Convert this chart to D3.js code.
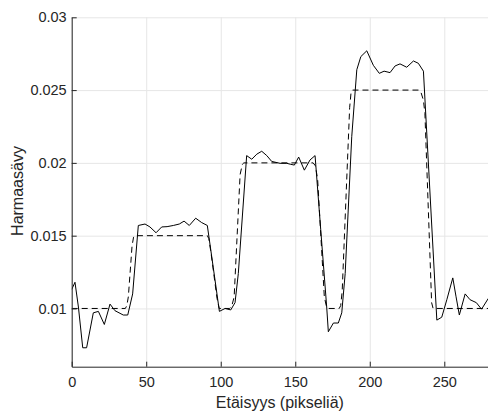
<!DOCTYPE html>
<html>
<head>
<meta charset="utf-8">
<script src="https://cdn.jsdelivr.net/npm/d3@7"></script>
<style>
  body { margin: 0; background: #fff; }
  svg { display: block; font-family: "Liberation Sans", Arial, Helvetica, sans-serif; }
</style>
</head>
<body>
<div id="chart"></div>
<script>
// measured profile (solid)
var measuredX = [0, 2.2, 4.5, 7.4, 10, 14.5, 17.9, 21.9, 25.7, 29, 34.6, 37.6, 40.9,
    44.7, 49.2, 52.5, 56.6, 60.4, 64, 68.2, 72.2, 75.4, 78.9, 83.2, 87.2, 91, 95,
    99.1, 102.9, 106.7, 109.6, 111.8, 117.4, 120.8, 124.2, 127.5, 130.9, 134.2, 139.8,
    144.3, 147, 149.4, 152.3, 156.1, 159.9, 163.3, 167.1, 171.1, 172.2, 175.6, 178.9,
    181.2, 183.5, 187.9, 191.3, 194, 198, 202.4, 206.4, 209.6, 213.6, 217, 220.3,
    224.8, 229.3, 232.6, 236, 245, 248.3, 251.7, 255.7, 257.9, 260.1, 264, 267.3,
    271.5, 275, 279.6]
var measuredY = [0.0113, 0.0118, 0.0101, 0.0073, 0.0073, 0.0097, 0.0098, 0.0089, 0.0103, 0.00985, 0.00955, 0.00955, 0.0110,
    0.0157, 0.0158, 0.0156, 0.0152, 0.0156, 0.01562, 0.0157, 0.0158, 0.0160, 0.0157, 0.0162, 0.0159, 0.0157, 0.0128,
    0.0098, 0.0100, 0.0099, 0.0104, 0.0124, 0.0205, 0.02025, 0.0206, 0.0208, 0.0205, 0.0201, 0.01997,
    0.01997, 0.0199, 0.01985, 0.0204, 0.0195, 0.0202, 0.0205, 0.0154, 0.0101, 0.0084, 0.0090, 0.0090,
    0.0097, 0.0124, 0.0218, 0.0264, 0.0273, 0.0277, 0.0267, 0.02615, 0.0263, 0.0262, 0.02666, 0.0268,
    0.02657, 0.0270, 0.02684, 0.0263, 0.0092, 0.0094, 0.0106, 0.0121, 0.0108, 0.00955, 0.0110, 0.0106,
    0.0104, 0.00995, 0.0107]

// ideal profile (dashed)
var idealX = [0, 36, 37, 38, 40.5, 41.5, 42, 91, 92, 93.5, 97.5, 99, 106, 107.5, 109, 113,
    114.5, 115.5, 162, 163.5, 165, 169.5, 171, 172, 179.5, 180.5, 181.5, 186.5, 187.5, 188.5,
    233, 234.5, 236, 237, 241.5, 242.5, 243.5, 280]
var idealY = [0.01, 0.01, 0.0102, 0.0108, 0.0143, 0.0149, 0.015, 0.015, 0.0148, 0.0138, 0.0107, 0.01, 0.01, 0.0102, 0.0108, 0.0192,
    0.0199, 0.02, 0.02, 0.0198, 0.0189, 0.0108, 0.0101, 0.01, 0.01, 0.0102, 0.0112, 0.0238, 0.0249, 0.025,
    0.025, 0.0248, 0.0243, 0.0234, 0.0104, 0.01, 0.01, 0.01]

var xTicks = [0, 50, 100, 150, 200, 250]
var yTicks = [0.01, 0.015, 0.02, 0.025, 0.03]
var yTickLabels = ['0.01', '0.015', '0.02', '0.025', '0.03']

var W = 488, H = 416,
    margins = {top: 17.3, right: -1, bottom: 49.3, left: 71.7},
    width = W - margins.left - margins.right,
    height = H - margins.top - margins.bottom,
    textColor = '#262626',
    gridColor = '#e6e6e6'

var svg = d3.select('#chart').append('svg')
    .attr('width', W)
    .attr('height', H)

var g = svg.append('g')
    .attr('transform', 'translate(' + margins.left + ',' + margins.top + ')')

var x = d3.scaleLinear().domain([0, 280]).range([0, width])
var y = d3.scaleLinear().domain([0.006, 0.03]).range([height, 0])

// grid
g.append('g').attr('class', 'grid')
    .attr('transform', 'translate(0,' + height + ')')
    .call(d3.axisBottom(x).tickValues(xTicks).tickSize(-height).tickFormat(''))
g.append('g').attr('class', 'grid')
    .call(d3.axisLeft(y).tickValues(yTicks).tickSize(-width).tickFormat(''))
g.selectAll('.grid .domain').remove()
g.selectAll('.grid line').attr('stroke', gridColor).attr('stroke-width', 1)

g.append('clipPath').attr('id', 'clip')
    .append('rect').attr('width', width).attr('height', height)

var line = d3.line()
    .x(function(d) { return x(d[0]) })
    .y(function(d) { return y(d[1]) })

var measured = measuredX.map(function(v, i) { return [v, measuredY[i]] })
var ideal = idealX.map(function(v, i) { return [v, idealY[i]] })

g.append('path')
    .datum(ideal)
    .attr('clip-path', 'url(#clip)')
    .attr('d', line)
    .attr('fill', 'none')
    .attr('stroke', '#000')
    .attr('stroke-width', 1)
    .attr('stroke-dasharray', '6,4')

g.append('path')
    .datum(measured)
    .attr('clip-path', 'url(#clip)')
    .attr('d', line)
    .attr('fill', 'none')
    .attr('stroke', '#000')
    .attr('stroke-width', 1)

// axes
var xAxis = g.append('g')
    .attr('transform', 'translate(0,' + height + ')')
    .call(d3.axisBottom(x).tickValues(xTicks).tickSizeInner(-5).tickSizeOuter(0).tickPadding(9.7))
var yAxis = g.append('g')
    .call(d3.axisLeft(y).tickValues(yTicks).tickSizeInner(-5).tickSizeOuter(0).tickPadding(5)
        .tickFormat(function(d, i) { return yTickLabels[i] }))

;[xAxis, yAxis].forEach(function(a) {
    a.select('.domain').attr('stroke', textColor)
    a.selectAll('.tick line').attr('stroke', textColor)
    a.selectAll('.tick text')
        .attr('fill', textColor)
        .style('font-size', '14.5px')
        .style('font-family', '"Liberation Sans", Arial, sans-serif')
})

svg.append('text')
    .attr('x', margins.left + width / 2 - 0.5)
    .attr('y', 408.3)
    .attr('text-anchor', 'middle')
    .attr('fill', textColor)
    .style('font-size', '16px')
    .text('Etäisyys (pikseliä)')

svg.append('text')
    .attr('transform', 'translate(23.2,191) rotate(-90)')
    .attr('text-anchor', 'middle')
    .attr('fill', textColor)
    .style('font-size', '16px')
    .text('Harmaasävy')
</script>
</body>
</html>
